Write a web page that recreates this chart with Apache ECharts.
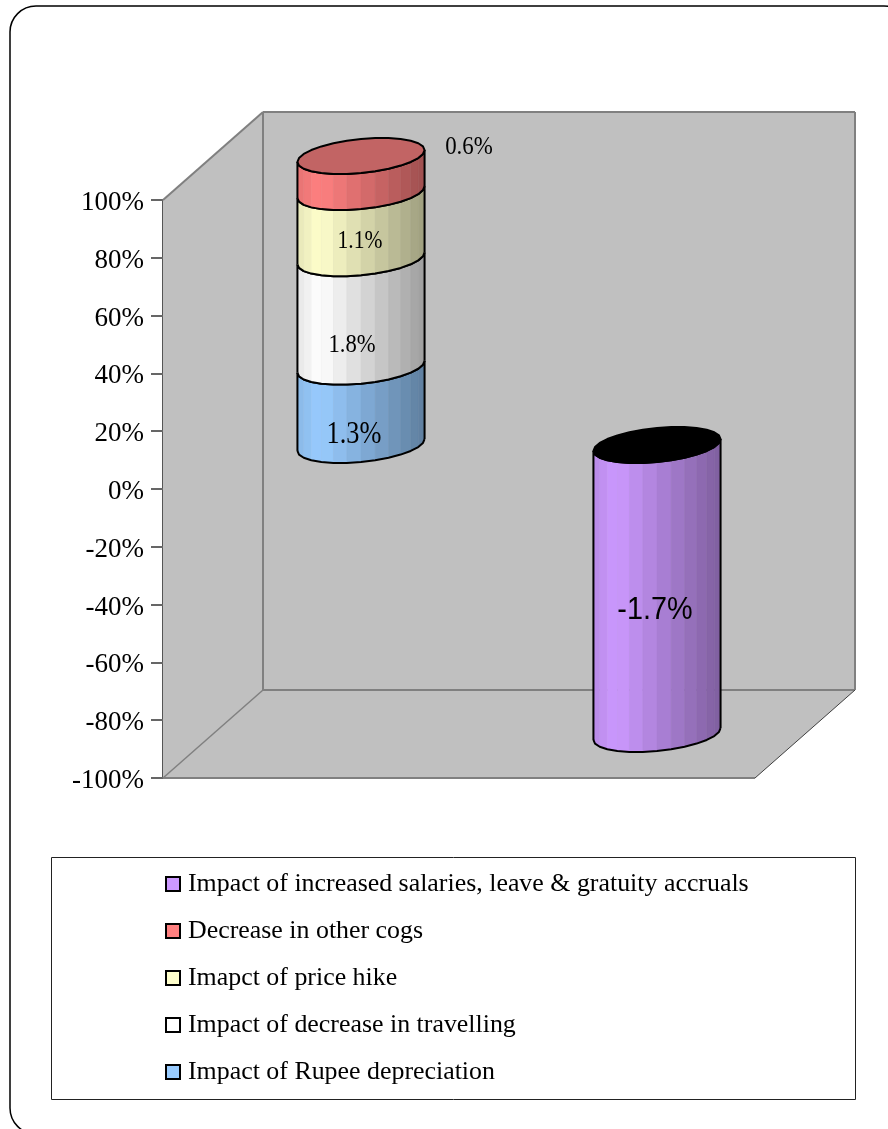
<!DOCTYPE html>
<html>
<head>
<meta charset="utf-8">
<title>Margin bridge</title>
<style>
  html, body { margin: 0; padding: 0; background: #fff; }
  #chart { width: 888px; height: 1129px; }
</style>
<script src="https://cdn.jsdelivr.net/npm/echarts@6/dist/echarts.min.js"></script>
</head>
<body>
<div id="chart"></div>
<script>
// Percentage-point impacts, as labelled on the columns
const categories = ['Favourable', 'Adverse'];
const rupeeDepreciation = [1.3, null];
const decreaseInTravelling = [1.8, null];
const priceHike = [1.1, null];
const decreaseInOtherCogs = [0.6, null];
const salariesAndAccruals = [null, -1.7];
const valueTicks = { min: -100, max: 100, step: 20 };

const seriesNames = [
  'Impact of Rupee depreciation',
  'Impact of decrease in travelling',
  'Imapct of price hike',
  'Decrease in other cogs',
  'Impact of increased salaries, leave & gratuity accruals'
];
const seriesValues = [rupeeDepreciation, decreaseInTravelling, priceHike, decreaseInOtherCogs, salariesAndAccruals];
const legendOrder = [4, 3, 2, 1, 0];

// Appearance of each stacked segment
const bodyColors = ['#99CCFF', '#FFFFFF', '#FFFFCC', '#FF8080', '#CC99FF'];
const capColors = ['#7AA3CC', '#CCCCCC', '#CCCCA3', '#C26464', '#000000'];
const labelStyles = [
  { dx: -7, dy: 29, size: 31, family: 'Liberation Serif', squeeze: 0.85 },
  { dx: -9, dy: 33, size: 26, family: 'Liberation Serif', squeeze: 0.87 },
  { dx: -1, dy: 16, size: 26, family: 'Liberation Serif', squeeze: 0.83 },
  { dx: 108, dy: -27, size: 26, family: 'Liberation Serif', squeeze: 0.88 },
  { dx: -2, dy: 21, size: 31, family: 'Liberation Sans', squeeze: 0.93 }
];

// Oblique projection of the chart box
const DEPTH_X = 100, DEPTH_Y = -88;
const COLUMN_RADIUS = 60, SKEW_X = 21, SKEW_Y = 18, FACETS = 14;
const WALL_FILL = '#C0C0C0', WALL_EDGE = '#808080';

// Each value becomes its share of the same-signed total in its category
function stackedShares() {
  return seriesValues.map((values, s) => values.map((v, c) => {
    if (v == null) return null;
    const peers = seriesValues.map(a => a[c]).filter(x => x != null && Math.sign(x) === Math.sign(v));
    const total = peers.reduce((a, b) => a + Math.abs(b), 0);
    let start = 0;
    for (let k = 0; k < s; k++) {
      const o = seriesValues[k][c];
      if (o != null && Math.sign(o) === Math.sign(v)) start += o;
    }
    return { start: start / total * 100, end: (start + v) / total * 100, outer: s === lastOfSign(c, v) };
  }));
}
function lastOfSign(c, v) {
  let last = -1;
  seriesValues.forEach((a, i) => { if (a[c] != null && Math.sign(a[c]) === Math.sign(v)) last = i; });
  return last;
}
const shares = stackedShares();

function shade(hex, f) {
  const n = parseInt(hex.slice(1), 16);
  const ch = s => Math.round(((n >> s) & 255) * f);
  return 'rgb(' + ch(16) + ',' + ch(8) + ',' + ch(0) + ')';
}
function facetShade(t) {
  return t < 0.18 ? 0.9 + 0.1 * t / 0.18 : 1 - 0.38 * (t - 0.18) / 0.82;
}
function rim(cx, cy, theta) {
  return [cx + COLUMN_RADIUS * Math.cos(theta) + SKEW_X * Math.sin(theta), cy - SKEW_Y * Math.sin(theta)];
}

// Back wall, side wall and floor of the box
function renderBox(params) {
  const g = params.coordSys;
  const l = g.x, r = g.x + g.width, t = g.y, b = g.y + g.height;
  const dx = DEPTH_X, dy = DEPTH_Y;
  const face = pts => ({ type: 'polygon', shape: { points: pts }, style: { fill: WALL_FILL, stroke: null } });
  const edge = (a, c, color, w) => ({
    type: 'line', shape: { x1: a[0], y1: a[1], x2: c[0], y2: c[1] },
    style: { stroke: color, lineWidth: w }
  });
  return {
    type: 'group',
    children: [
      face([[l + dx, t + dy], [r + dx, t + dy], [r + dx, b + dy], [l + dx, b + dy]]),
      face([[l, t], [l + dx, t + dy], [l + dx, b + dy], [l, b]]),
      face([[l, b], [l + dx, b + dy], [r + dx, b + dy], [r, b]]),
      edge([l + dx, t + dy], [r + dx, t + dy], WALL_EDGE, 2),
      edge([r + dx, t + dy], [r + dx, b + dy], WALL_EDGE, 2),
      edge([l + dx, t + dy], [l + dx, b + dy], WALL_EDGE, 2),
      edge([l + dx, b + dy], [r + dx, b + dy], WALL_EDGE, 2),
      edge([l, t], [l + dx, t + dy], WALL_EDGE, 2),
      edge([l, b], [r, b], WALL_EDGE, 2),
      edge([l, b], [l + dx, b + dy], '#808080', 1.5),
      edge([r, b], [r + dx, b + dy], '#404040', 1)
    ]
  };
}

// One cylinder segment between two stacked shares
function renderSegment(s) {
  return function (params, api) {
    const c = api.value(0);
    const low = api.coord([c, api.value(1)]);
    const high = api.coord([c, api.value(2)]);
    const cx = low[0] + DEPTH_X / 2;
    const yStart = low[1] + DEPTH_Y / 2;
    const yEnd = high[1] + DEPTH_Y / 2;
    const yTop = Math.min(yStart, yEnd), yBottom = Math.max(yStart, yEnd);
    const theta0 = Math.atan2(SKEW_X, COLUMN_RADIUS);
    const width = 2 * Math.hypot(COLUMN_RADIUS, SKEW_X);
    const children = [];
    const topCurve = [], bottomCurve = [];
    for (let i = 0; i <= FACETS; i++) {
      const th = theta0 + Math.PI + i * Math.PI / FACETS;
      topCurve.push(rim(cx, yTop, th));
      bottomCurve.push(rim(cx, yBottom, th));
    }
    for (let i = 0; i < FACETS; i++) {
      const mid = (topCurve[i][0] + topCurve[i + 1][0]) / 2;
      const t = (mid - (cx - width / 2)) / width;
      const fill = shade(bodyColors[s], facetShade(t));
      children.push({
        type: 'polygon',
        shape: { points: [topCurve[i], topCurve[i + 1], bottomCurve[i + 1], bottomCurve[i]] },
        style: { fill: fill, stroke: fill, lineWidth: 0.5 }
      });
    }
    const stroke = { stroke: '#000', lineWidth: 2, fill: null, lineJoin: 'round' };
    children.push({ type: 'polyline', shape: { points: topCurve }, style: stroke });
    children.push({ type: 'polyline', shape: { points: bottomCurve }, style: stroke });
    children.push({ type: 'polyline', shape: { points: [topCurve[0], bottomCurve[0]] }, style: stroke });
    children.push({ type: 'polyline', shape: { points: [topCurve[FACETS], bottomCurve[FACETS]] }, style: stroke });
    if (api.value(3)) {
      const capPoints = [];
      for (let i = 0; i < 2 * FACETS; i++) {
        capPoints.push(rim(cx, yTop, theta0 + Math.PI + i * Math.PI / FACETS));
      }
      children.push({
        type: 'polygon', shape: { points: capPoints },
        style: { fill: capColors[s], stroke: '#000', lineWidth: 2, lineJoin: 'round' }
      });
    }
    const ls = labelStyles[s];
    children.push({
      type: 'text',
      x: cx + ls.dx,
      y: (yStart + yEnd) / 2 + ls.dy,
      scaleX: ls.squeeze,
      style: {
        text: api.value(4).toFixed(1) + '%',
        align: 'center', verticalAlign: 'middle',
        fontFamily: ls.family, fontSize: ls.size, fill: '#000'
      }
    });
    return { type: 'group', children: children };
  };
}

const segmentSeries = seriesNames.map((name, s) => ({
  name: name,
  type: 'custom',
  coordinateSystem: 'cartesian2d',
  renderItem: renderSegment(s),
  itemStyle: { color: bodyColors[s] },
  encode: { x: 0, y: [1, 2] },
  z: 3 + s,
  silent: true,
  data: seriesValues[s].map((v, c) => v == null ? null : [c, shares[s][c].start, shares[s][c].end, shares[s][c].outer ? 1 : 0, v]).filter(Boolean)
}));

const chart = echarts.init(document.getElementById('chart'), null, { renderer: 'canvas' });
chart.setOption({
  animation: false,
  backgroundColor: '#fff',
  textStyle: { fontFamily: 'Liberation Serif' },
  grid: { left: 163, right: 133, top: 200, height: 578, containLabel: false },
  xAxis: { type: 'category', data: categories, show: false },
  yAxis: {
    type: 'value',
    min: valueTicks.min, max: valueTicks.max, interval: valueTicks.step,
    axisLine: { show: true, lineStyle: { color: '#555', width: 2 } },
    axisTick: { show: true, length: 12, lineStyle: { color: '#666', width: 2 } },
    splitLine: { show: false },
    axisLabel: {
      formatter: '{n|{value}%}', margin: 19,
      rich: { n: { color: '#000', fontFamily: 'Liberation Serif', fontSize: 27, padding: [6, 0, 0, 0] } }
    }
  },
  legend: {
    orient: 'vertical',
    left: 165, top: 870, padding: 0,
    itemWidth: 14, itemHeight: 14, itemGap: 19,
    icon: 'rect',
    itemStyle: { borderColor: '#000', borderWidth: 2 },
    textStyle: { fontFamily: 'Liberation Serif', fontSize: 25.9, color: '#000', lineHeight: 26, padding: [2, 0, 0, 3] },
    data: legendOrder.map(i => seriesNames[i]),
    selectedMode: false
  },
  graphic: [
    { type: 'rect', z: -10, shape: { x: 10, y: 6, width: 900, height: 1128, r: 26 }, style: { fill: '#fff', stroke: '#000', lineWidth: 1.5 } },
    { type: 'rect', z: -5, shape: { x: 51.5, y: 857.5, width: 804, height: 242 }, style: { fill: '#fff', stroke: '#222', lineWidth: 1 } }
  ],
  series: [
    { type: 'custom', coordinateSystem: 'cartesian2d', renderItem: renderBox, z: 1, silent: true, data: [[0, 0]] },
    ...segmentSeries
  ]
});
</script>
</body>
</html>
